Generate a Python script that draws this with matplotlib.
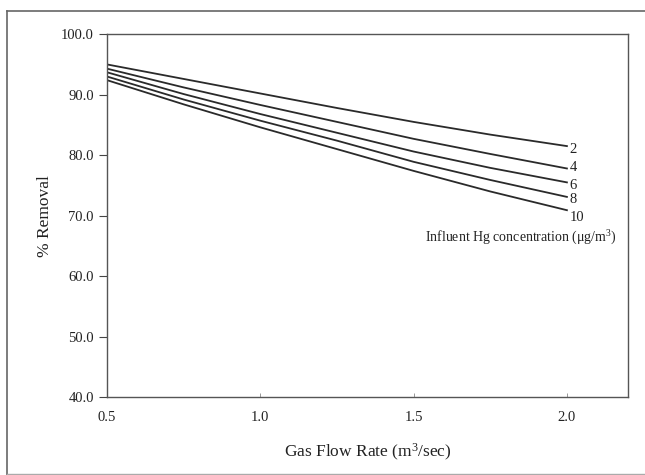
import matplotlib
matplotlib.use("Agg")
import matplotlib.pyplot as plt
from matplotlib.lines import Line2D

plt.rcParams['font.family'] = ['Liberation Serif', 'DejaVu Serif']
plt.rcParams['mathtext.fontset'] = 'custom'
plt.rcParams['mathtext.rm'] = 'Liberation Serif'
plt.rcParams['mathtext.it'] = 'Liberation Serif:italic'

flow_rate = [0.5, 0.75, 1.0, 1.25, 1.5, 1.75, 2.0]
concentrations = ["2", "4", "6", "8", "10"]
removal_2 = [95.0, 92.6, 90.2, 87.8, 85.5, 83.4, 81.5]
removal_4 = [94.3, 91.2, 88.3, 85.5, 82.7, 80.2, 77.8]
removal_6 = [93.7, 90.1, 86.8, 83.7, 80.6, 77.9, 75.5]
removal_8 = [93.0, 89.2, 85.7, 82.4, 78.9, 75.9, 73.1]
removal_10 = [92.4, 88.4, 84.6, 81.0, 77.4, 74.0, 70.9]
series = [removal_2, removal_4, removal_6, removal_8, removal_10]
x_ticks = [0.5, 1.0, 1.5, 2.0]
y_ticks = [40, 50, 60, 70, 80, 90, 100]

fig = plt.figure(figsize=(6.45, 4.75), dpi=100)
ax = fig.add_axes([0.166, 0.164, 0.808, 0.764])

label_offsets = [-0.55, 0.2, -0.55, -0.45, -1.15]
for vals, lab, off in zip(series, concentrations, label_offsets):
    ax.plot(flow_rate, vals, color='#2a2a2a', lw=1.3, solid_joinstyle='round')
    ax.text(flow_rate[-1] + 0.008, vals[-1] + off, lab, fontsize=10.5,
            ha='left', va='center', color='#222222')

ax.text(2.162, 66.4, "Influent Hg concentration (\u03bcg/m$^3$)", fontsize=10,
        ha='right', va='center', color='#222222')

ax.set_xlim(0.5, 2.2)
ax.set_ylim(40, 100)
ax.set_xticks(x_ticks)
ax.set_xticklabels([f"{v:.1f}" for v in x_ticks], fontsize=10.5)
ax.set_yticks(y_ticks)
ax.set_yticklabels([f"{v:.1f}" for v in y_ticks], fontsize=10.5)
ax.tick_params(axis='y', direction='out', length=6, width=0.8, colors='#444444', labelcolor='#222222')
ax.tick_params(axis='x', direction='in', length=3, width=0.6, colors='#888888', labelcolor='#222222', pad=10)
for s in ax.spines.values():
    s.set_color('#555555')
    s.set_linewidth(1.0)

ax.set_xlabel("Gas Flow Rate (m$^3$/sec)", fontsize=12.5, labelpad=13, color='#222222')
ax.set_ylabel("% Removal", fontsize=12.5, labelpad=6, color='#222222')

# outer frame
fc = '#666666'
fig.add_artist(Line2D([7/645, 7/645], [0.0, 1 - 11/475], transform=fig.transFigure, color=fc, lw=1.2))
fig.add_artist(Line2D([7/645, 1.0], [1 - 11/475, 1 - 11/475], transform=fig.transFigure, color=fc, lw=1.2))
fig.add_artist(Line2D([7/645, 1.0], [1/475, 1/475], transform=fig.transFigure, color='#aaaaaa', lw=1.0))

fig.savefig("out.png", dpi=100)
